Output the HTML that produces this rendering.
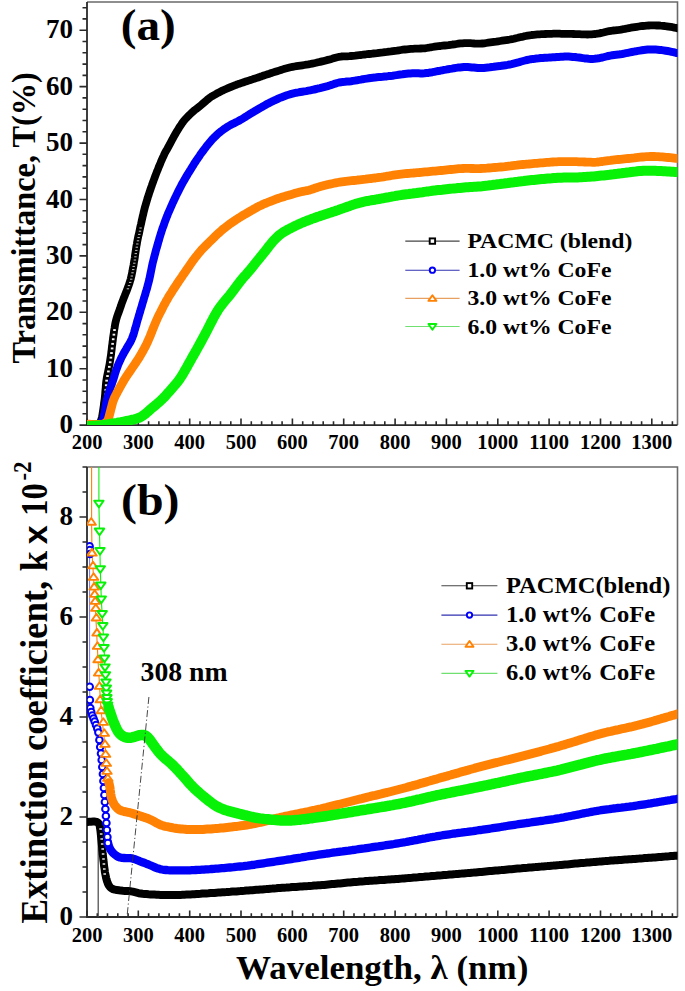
<!DOCTYPE html><html><head><meta charset="utf-8"><style>
html,body{margin:0;padding:0;background:#fff;}
svg{display:block;}
text{font-family:"Liberation Serif",serif;font-weight:bold;fill:#000;}
.yt{font-size:27px;}
.xt{font-size:20.5px;}
.lg{font-size:22px;}
.pl{font-size:44.5px;}
.ann{font-size:26.5px;}
.at{font-size:33px;}
.at2{font-size:37px;}
.xl{font-size:33.5px;}
.sx{font-family:"Liberation Sans",sans-serif;font-size:34px;}
.sup{font-size:26px;}
.lga{font-size:21.5px;}
.lgb{font-size:22.5px;}
</style></head><body><svg width="685" height="991" viewBox="0 0 685 991"><rect width="685" height="991" fill="#fff"/><path d="M87.0,2.0 H677.5 V425.1" fill="none" stroke="#6a6a6a" stroke-width="1.6"/>
<path d="M87.0,2.0 V425.1 H677.5" fill="none" stroke="#2a2a2a" stroke-width="1.8"/>
<path d="M79.5,425.1H87.0M79.5,368.7H87.0M79.5,312.3H87.0M79.5,255.9H87.0M79.5,199.5H87.0M79.5,143.1H87.0M79.5,86.6H87.0M79.5,30.2H87.0M82.5,413.8H87.0M82.5,402.5H87.0M82.5,391.3H87.0M82.5,380.0H87.0M82.5,357.4H87.0M82.5,346.1H87.0M82.5,334.8H87.0M82.5,323.6H87.0M82.5,301.0H87.0M82.5,289.7H87.0M82.5,278.4H87.0M82.5,267.2H87.0M82.5,244.6H87.0M82.5,233.3H87.0M82.5,222.0H87.0M82.5,210.7H87.0M82.5,188.2H87.0M82.5,176.9H87.0M82.5,165.6H87.0M82.5,154.3H87.0M82.5,131.8H87.0M82.5,120.5H87.0M82.5,109.2H87.0M82.5,97.9H87.0M82.5,75.4H87.0M82.5,64.1H87.0M82.5,52.8H87.0M82.5,41.5H87.0M82.5,18.9H87.0M82.5,7.7H87.0M87.0,425.1V418.6M97.3,425.1V421.3M107.5,425.1V421.3M117.8,425.1V421.3M128.1,425.1V421.3M138.3,425.1V418.6M148.6,425.1V421.3M158.9,425.1V421.3M169.2,425.1V421.3M179.4,425.1V421.3M189.7,425.1V418.6M200.0,425.1V421.3M210.2,425.1V421.3M220.5,425.1V421.3M230.8,425.1V421.3M241.0,425.1V418.6M251.3,425.1V421.3M261.6,425.1V421.3M271.9,425.1V421.3M282.1,425.1V421.3M292.4,425.1V418.6M302.7,425.1V421.3M312.9,425.1V421.3M323.2,425.1V421.3M333.5,425.1V421.3M343.7,425.1V418.6M354.0,425.1V421.3M364.3,425.1V421.3M374.5,425.1V421.3M384.8,425.1V421.3M395.1,425.1V418.6M405.4,425.1V421.3M415.6,425.1V421.3M425.9,425.1V421.3M436.2,425.1V421.3M446.4,425.1V418.6M456.7,425.1V421.3M467.0,425.1V421.3M477.2,425.1V421.3M487.5,425.1V421.3M497.8,425.1V418.6M508.1,425.1V421.3M518.3,425.1V421.3M528.6,425.1V421.3M538.9,425.1V421.3M549.1,425.1V418.6M559.4,425.1V421.3M569.7,425.1V421.3M579.9,425.1V421.3M590.2,425.1V421.3M600.5,425.1V418.6M610.7,425.1V421.3M621.0,425.1V421.3M631.3,425.1V421.3M641.6,425.1V421.3M651.8,425.1V418.6M662.1,425.1V421.3M672.4,425.1V421.3" stroke="#2a2a2a" stroke-width="1.6" fill="none"/>
<text x="73" y="433.1" text-anchor="end" class="yt">0</text>
<text x="73" y="376.7" text-anchor="end" class="yt">10</text>
<text x="73" y="320.3" text-anchor="end" class="yt">20</text>
<text x="73" y="263.9" text-anchor="end" class="yt">30</text>
<text x="73" y="207.5" text-anchor="end" class="yt">40</text>
<text x="73" y="151.1" text-anchor="end" class="yt">50</text>
<text x="73" y="94.6" text-anchor="end" class="yt">60</text>
<text x="73" y="38.2" text-anchor="end" class="yt">70</text>
<text x="87.0" y="448.5" text-anchor="middle" class="xt">200</text>
<text x="138.3" y="448.5" text-anchor="middle" class="xt">300</text>
<text x="189.7" y="448.5" text-anchor="middle" class="xt">400</text>
<text x="241.0" y="448.5" text-anchor="middle" class="xt">500</text>
<text x="292.4" y="448.5" text-anchor="middle" class="xt">600</text>
<text x="343.7" y="448.5" text-anchor="middle" class="xt">700</text>
<text x="395.1" y="448.5" text-anchor="middle" class="xt">800</text>
<text x="446.4" y="448.5" text-anchor="middle" class="xt">900</text>
<text x="497.8" y="448.5" text-anchor="middle" class="xt">1000</text>
<text x="549.1" y="448.5" text-anchor="middle" class="xt">1100</text>
<text x="600.5" y="448.5" text-anchor="middle" class="xt">1200</text>
<text x="651.8" y="448.5" text-anchor="middle" class="xt">1300</text>
<path d="M87.0,467.0 H677.5 V917.0" fill="none" stroke="#6a6a6a" stroke-width="1.6"/>
<path d="M87.0,467.0 V917.0 H677.5" fill="none" stroke="#2a2a2a" stroke-width="1.8"/>
<path d="M79.5,917.0H87.0M79.5,817.0H87.0M79.5,717.0H87.0M79.5,617.0H87.0M79.5,517.0H87.0M82.5,892.0H87.0M82.5,867.0H87.0M82.5,842.0H87.0M82.5,792.0H87.0M82.5,767.0H87.0M82.5,742.0H87.0M82.5,692.0H87.0M82.5,667.0H87.0M82.5,642.0H87.0M82.5,592.0H87.0M82.5,567.0H87.0M82.5,542.0H87.0M82.5,492.0H87.0M82.5,467.0H87.0M87.0,917.0V910.5M97.3,917.0V913.2M107.5,917.0V913.2M117.8,917.0V913.2M128.1,917.0V913.2M138.3,917.0V910.5M148.6,917.0V913.2M158.9,917.0V913.2M169.2,917.0V913.2M179.4,917.0V913.2M189.7,917.0V910.5M200.0,917.0V913.2M210.2,917.0V913.2M220.5,917.0V913.2M230.8,917.0V913.2M241.0,917.0V910.5M251.3,917.0V913.2M261.6,917.0V913.2M271.9,917.0V913.2M282.1,917.0V913.2M292.4,917.0V910.5M302.7,917.0V913.2M312.9,917.0V913.2M323.2,917.0V913.2M333.5,917.0V913.2M343.7,917.0V910.5M354.0,917.0V913.2M364.3,917.0V913.2M374.5,917.0V913.2M384.8,917.0V913.2M395.1,917.0V910.5M405.4,917.0V913.2M415.6,917.0V913.2M425.9,917.0V913.2M436.2,917.0V913.2M446.4,917.0V910.5M456.7,917.0V913.2M467.0,917.0V913.2M477.2,917.0V913.2M487.5,917.0V913.2M497.8,917.0V910.5M508.1,917.0V913.2M518.3,917.0V913.2M528.6,917.0V913.2M538.9,917.0V913.2M549.1,917.0V910.5M559.4,917.0V913.2M569.7,917.0V913.2M579.9,917.0V913.2M590.2,917.0V913.2M600.5,917.0V910.5M610.7,917.0V913.2M621.0,917.0V913.2M631.3,917.0V913.2M641.6,917.0V913.2M651.8,917.0V910.5M662.1,917.0V913.2M672.4,917.0V913.2" stroke="#2a2a2a" stroke-width="1.6" fill="none"/>
<text x="73" y="925.0" text-anchor="end" class="yt">0</text>
<text x="73" y="825.0" text-anchor="end" class="yt">2</text>
<text x="73" y="725.0" text-anchor="end" class="yt">4</text>
<text x="73" y="625.0" text-anchor="end" class="yt">6</text>
<text x="73" y="525.0" text-anchor="end" class="yt">8</text>
<text x="87.0" y="941.5" text-anchor="middle" class="xt">200</text>
<text x="138.3" y="941.5" text-anchor="middle" class="xt">300</text>
<text x="189.7" y="941.5" text-anchor="middle" class="xt">400</text>
<text x="241.0" y="941.5" text-anchor="middle" class="xt">500</text>
<text x="292.4" y="941.5" text-anchor="middle" class="xt">600</text>
<text x="343.7" y="941.5" text-anchor="middle" class="xt">700</text>
<text x="395.1" y="941.5" text-anchor="middle" class="xt">800</text>
<text x="446.4" y="941.5" text-anchor="middle" class="xt">900</text>
<text x="497.8" y="941.5" text-anchor="middle" class="xt">1000</text>
<text x="549.1" y="941.5" text-anchor="middle" class="xt">1100</text>
<text x="600.5" y="941.5" text-anchor="middle" class="xt">1200</text>
<text x="651.8" y="941.5" text-anchor="middle" class="xt">1300</text>
<defs><clipPath id="ca"><rect x="87.0" y="2.0" width="590.5" height="423.1"/></clipPath>
<clipPath id="cb"><rect x="87.0" y="467.0" width="590.5" height="450.0"/></clipPath></defs>
<g>
<path d="M88.2,424.0 89.4,424.1 91.1,424.2 93.0,424.2 95.0,424.2 96.9,424.0 98.6,423.5 99.9,422.5 100.8,421.1 101.4,419.3 101.9,417.4 102.3,415.5 102.6,413.5 102.9,411.5 103.2,409.6 103.5,407.6 103.8,405.6 104.0,403.6 104.3,401.6 104.6,399.7 104.8,397.7 105.0,395.7 105.2,393.7 105.3,391.7 105.5,389.7 105.7,387.7 105.8,385.7 106.0,383.7 106.2,381.7 106.5,379.8 106.8,377.8 107.2,375.8 107.6,373.9 108.0,371.9 108.4,369.9 108.8,368.0 109.2,366.0 109.6,364.1 109.9,362.1 110.2,360.1 110.5,358.1 110.8,356.2 111.1,354.2 111.3,352.2 111.6,350.2 111.8,348.2 112.0,346.2 112.3,344.3 112.5,342.3 112.8,340.3 113.0,338.3 113.3,336.3 113.6,334.3 113.9,332.4 114.1,330.4 114.5,328.4 114.8,326.4 115.1,324.5 115.5,322.5 116.0,320.6 116.5,318.6 117.1,316.7 117.7,314.8 118.4,313.0 119.1,311.1 119.8,309.2 120.4,307.3 121.1,305.4 121.7,303.5 122.4,301.6 123.1,299.8 123.8,297.9 124.6,296.0 125.3,294.2 126.1,292.3 126.8,290.5 127.5,288.6 128.2,286.7 128.9,284.9 129.5,283.0 130.1,281.0 130.7,279.1 131.1,277.2 131.6,275.2 132.0,273.3 132.4,271.3 132.7,269.3 133.1,267.4 133.5,265.4 133.8,263.4 134.1,261.5 134.5,259.5 134.8,257.5 135.0,255.5 135.3,253.6 135.6,251.6 135.9,249.6 136.2,247.6 136.5,245.7 136.9,243.7 137.2,241.7 137.6,239.8 138.0,237.8 138.4,235.8 138.9,233.9 139.3,231.9 139.7,230.0 140.1,228.0 140.5,226.1 141.0,224.1 141.4,222.2 141.8,220.2 142.3,218.3 142.7,216.3 143.2,214.4 143.6,212.4 144.1,210.5 144.6,208.5 145.1,206.6 145.7,204.7 146.2,202.8 146.8,200.8 147.4,198.9 147.9,197.0 148.6,195.1 149.2,193.2 149.8,191.3 150.5,189.4 151.1,187.5 151.8,185.6 152.4,183.8 153.1,181.9 153.8,180.0 154.5,178.1 155.2,176.2 155.9,174.4 156.6,172.5 157.4,170.6 158.1,168.8 158.8,166.9 159.6,165.1 160.4,163.2 161.1,161.4 161.9,159.6 162.7,157.7 163.6,155.9 164.4,154.1 165.3,152.3 166.3,150.6 167.3,148.8 168.2,147.1 169.2,145.3 170.2,143.6 171.1,141.8 172.0,140.0 173.0,138.3 173.9,136.5 174.9,134.8 175.9,133.0 176.9,131.3 178.0,129.6 179.0,127.9 180.1,126.2 181.2,124.6 182.3,122.9 183.5,121.3 184.8,119.8 186.1,118.3 187.5,116.8 188.9,115.4 190.4,114.0 191.8,112.7 193.3,111.3 194.8,110.0 196.4,108.8 198.0,107.6 199.6,106.4 201.1,105.1 202.6,103.8 204.1,102.5 205.6,101.2 207.1,99.9 208.7,98.6 210.3,97.4 211.9,96.3 213.6,95.3 215.4,94.3 217.1,93.3 218.9,92.4 220.7,91.5 222.5,90.6 224.3,89.8 226.1,89.0 228.0,88.2 229.8,87.4 231.7,86.6 233.5,85.9 235.4,85.2 237.2,84.4 239.1,83.8 241.0,83.1 242.9,82.5 244.8,81.8 246.7,81.2 248.6,80.6 250.5,80.0 252.4,79.4 254.3,78.7 256.2,78.1 258.1,77.5 260.0,76.8 261.9,76.2 263.8,75.5 265.7,74.9 267.6,74.3 269.5,73.7 271.4,73.0 273.3,72.4 275.2,71.8 277.1,71.2 279.0,70.6 280.9,70.0 282.8,69.4 284.7,68.8 286.7,68.3 288.6,67.8 290.5,67.3 292.5,66.9 294.5,66.5 296.4,66.2 298.4,65.9 300.4,65.6 302.4,65.3 304.3,65.0 306.3,64.7 308.3,64.4 310.3,64.0 312.2,63.6 314.2,63.2 316.1,62.8 318.1,62.3 320.0,61.9 322.0,61.4 323.9,60.9 325.8,60.4 327.8,59.9 329.7,59.4 331.6,58.9 333.5,58.3 335.4,57.7 337.4,57.2 339.3,56.8 341.3,56.5 343.3,56.4 345.3,56.4 347.3,56.3 349.3,56.2 351.3,56.0 353.2,55.9 355.2,55.7 357.2,55.4 359.2,55.2 361.2,55.0 363.2,54.7 365.2,54.5 367.1,54.2 369.1,54.0 371.1,53.8 373.1,53.5 375.1,53.3 377.1,53.1 379.1,52.8 381.1,52.6 383.0,52.4 385.0,52.1 387.0,51.9 389.0,51.6 391.0,51.4 393.0,51.1 394.9,50.8 396.9,50.6 398.9,50.3 400.9,50.0 402.9,49.7 404.8,49.5 406.8,49.3 408.8,49.1 410.8,48.9 412.8,48.8 414.8,48.7 416.8,48.6 418.8,48.6 420.8,48.5 422.8,48.4 424.8,48.3 426.8,48.0 428.7,47.7 430.7,47.3 432.7,47.0 434.6,46.7 436.6,46.4 438.6,46.2 440.6,46.0 442.6,45.7 444.6,45.5 446.5,45.3 448.5,45.1 450.5,44.8 452.5,44.5 454.5,44.3 456.5,44.0 458.4,43.7 460.4,43.4 462.4,43.3 464.4,43.1 466.4,43.1 468.4,43.1 470.4,43.2 472.4,43.3 474.4,43.5 476.4,43.6 478.4,43.7 480.4,43.7 482.4,43.5 484.3,43.3 486.3,43.0 488.3,42.7 490.3,42.4 492.2,42.1 494.2,41.8 496.2,41.6 498.2,41.3 500.2,41.0 502.1,40.7 504.1,40.4 506.1,40.1 508.1,39.8 510.0,39.5 512.0,39.1 514.0,38.7 515.9,38.2 517.9,37.8 519.8,37.3 521.8,36.9 523.7,36.4 525.7,36.0 527.6,35.6 529.6,35.3 531.6,35.0 533.6,34.8 535.6,34.6 537.5,34.4 539.5,34.3 541.5,34.2 543.5,34.1 545.5,34.0 547.5,33.9 549.5,33.8 551.5,33.8 553.5,33.7 555.5,33.7 557.5,33.7 559.5,33.7 561.5,33.8 563.5,33.8 565.5,33.8 567.5,33.9 569.5,33.9 571.5,33.9 573.5,34.0 575.5,34.1 577.5,34.2 579.5,34.2 581.5,34.3 583.5,34.4 585.5,34.4 587.5,34.5 589.5,34.4 591.5,34.4 593.5,34.2 595.5,34.0 597.5,33.7 599.4,33.4 601.4,32.9 603.3,32.5 605.3,32.0 607.2,31.5 609.1,31.1 611.1,30.8 613.1,30.5 615.1,30.3 617.1,30.1 619.1,29.9 621.0,29.6 623.0,29.2 625.0,28.9 626.9,28.5 628.9,28.1 630.9,27.7 632.8,27.4 634.8,27.1 636.8,26.8 638.8,26.5 640.7,26.2 642.7,26.0 644.7,25.8 646.7,25.6 648.7,25.5 650.7,25.4 652.7,25.4 654.7,25.4 656.7,25.5 658.7,25.5 660.7,25.7 662.7,25.8 664.7,26.0 666.7,26.3 668.6,26.6 670.6,26.9 672.6,27.2 674.4,27.6 676.1,27.9 677.3,28.2" fill="none" stroke="#000" stroke-width="7.8" stroke-linejoin="round" stroke-linecap="round" clip-path="url(#ca)"/>
<g fill="#fff" fill-opacity="0.95"><rect x="113.2" y="329.1" width="2.6" height="1.9"/><rect x="112.6" y="333.7" width="2.6" height="1.9"/><rect x="111.9" y="338.3" width="2.6" height="1.9"/><rect x="111.3" y="342.9" width="2.6" height="1.9"/><rect x="110.8" y="347.5" width="2.6" height="1.9"/><rect x="110.2" y="352.1" width="2.6" height="1.9"/><rect x="109.6" y="356.7" width="2.6" height="1.9"/><rect x="108.9" y="361.3" width="2.6" height="1.9"/><rect x="108.0" y="365.9" width="2.6" height="1.9"/><rect x="107.1" y="370.5" width="2.6" height="1.9"/><rect x="106.2" y="375.1" width="2.6" height="1.9"/><rect x="105.3" y="379.7" width="2.6" height="1.9"/><rect x="104.9" y="384.3" width="2.6" height="1.9"/><rect x="104.5" y="388.9" width="2.6" height="1.9"/><rect x="104.1" y="393.5" width="2.6" height="1.9"/><rect x="103.7" y="398.1" width="2.6" height="1.9"/></g>
<g fill="#fff" fill-opacity="0.75"><rect x="139.4" y="227.5" width="2.4" height="1.0"/><rect x="138.8" y="230.7" width="2.4" height="1.0"/><rect x="138.1" y="233.9" width="2.4" height="1.0"/><rect x="137.4" y="237.1" width="2.4" height="1.0"/><rect x="136.8" y="240.3" width="2.4" height="1.0"/><rect x="136.1" y="243.5" width="2.4" height="1.0"/><rect x="135.6" y="246.7" width="2.4" height="1.0"/><rect x="135.1" y="249.9" width="2.4" height="1.0"/><rect x="134.6" y="253.1" width="2.4" height="1.0"/><rect x="134.2" y="256.3" width="2.4" height="1.0"/><rect x="133.7" y="259.5" width="2.4" height="1.0"/><rect x="133.1" y="262.7" width="2.4" height="1.0"/><rect x="132.5" y="265.9" width="2.4" height="1.0"/><rect x="132.0" y="269.1" width="2.4" height="1.0"/><rect x="131.3" y="272.3" width="2.4" height="1.0"/><rect x="130.6" y="275.5" width="2.4" height="1.0"/><rect x="130.0" y="278.7" width="2.4" height="1.0"/><rect x="129.0" y="281.9" width="2.4" height="1.0"/><rect x="127.8" y="285.1" width="2.4" height="1.0"/><rect x="126.7" y="288.3" width="2.4" height="1.0"/></g>
<path d="M88.2,424.0 89.4,424.0 91.1,424.0 93.0,424.0 95.0,424.0 97.0,423.9 98.9,423.6 100.5,423.0 101.8,422.0 102.7,420.6 103.2,418.8 103.6,416.9 104.0,414.9 104.4,413.0 104.8,411.0 105.1,409.0 105.4,407.1 105.8,405.1 106.1,403.1 106.5,401.2 107.0,399.2 107.5,397.3 108.0,395.4 108.6,393.5 109.2,391.5 109.8,389.6 110.4,387.7 111.1,385.9 111.8,384.0 112.4,382.1 113.1,380.2 113.7,378.3 114.3,376.4 114.8,374.5 115.4,372.6 116.0,370.7 116.7,368.8 117.4,366.9 118.1,365.0 118.9,363.2 119.7,361.4 120.6,359.5 121.4,357.7 122.3,356.0 123.2,354.2 124.2,352.4 125.2,350.7 126.2,349.0 127.2,347.2 128.3,345.5 129.3,343.8 130.3,342.1 131.2,340.3 132.0,338.5 132.7,336.6 133.4,334.8 134.0,332.8 134.5,330.9 135.1,329.0 135.6,327.1 136.2,325.2 136.7,323.2 137.2,321.3 137.8,319.4 138.4,317.5 138.9,315.5 139.5,313.6 140.1,311.7 140.6,309.8 141.2,307.9 141.8,306.0 142.3,304.0 142.9,302.1 143.5,300.2 144.0,298.3 144.6,296.4 145.2,294.5 145.7,292.5 146.3,290.6 146.9,288.7 147.4,286.8 147.9,284.8 148.4,282.9 148.9,281.0 149.4,279.0 149.8,277.1 150.2,275.1 150.6,273.1 151.0,271.2 151.4,269.2 151.8,267.3 152.2,265.3 152.6,263.4 153.1,261.4 153.6,259.5 154.1,257.5 154.6,255.6 155.1,253.7 155.6,251.7 156.1,249.8 156.7,247.9 157.2,246.0 157.8,244.0 158.3,242.1 158.9,240.2 159.4,238.3 160.0,236.4 160.6,234.4 161.2,232.5 161.8,230.6 162.4,228.7 163.1,226.8 163.8,225.0 164.4,223.1 165.1,221.2 165.8,219.3 166.5,217.5 167.3,215.6 168.0,213.7 168.8,211.9 169.6,210.1 170.4,208.2 171.2,206.4 172.0,204.6 172.8,202.7 173.7,200.9 174.5,199.1 175.4,197.3 176.2,195.5 177.1,193.7 178.0,191.9 178.9,190.1 179.8,188.3 180.7,186.6 181.6,184.8 182.6,183.0 183.6,181.3 184.6,179.6 185.6,177.8 186.6,176.1 187.6,174.4 188.7,172.7 189.7,171.0 190.8,169.3 191.8,167.6 192.9,165.9 193.9,164.2 195.0,162.5 196.1,160.8 197.2,159.2 198.4,157.5 199.5,155.9 200.6,154.2 201.8,152.6 203.0,151.0 204.2,149.4 205.4,147.8 206.6,146.2 207.9,144.7 209.1,143.1 210.4,141.6 211.7,140.1 213.1,138.6 214.5,137.2 215.9,135.8 217.3,134.4 218.8,133.1 220.4,131.8 222.0,130.6 223.6,129.4 225.2,128.3 226.9,127.2 228.6,126.1 230.3,125.1 232.1,124.2 233.9,123.3 235.7,122.4 237.5,121.5 239.2,120.6 241.0,119.6 242.7,118.6 244.4,117.5 246.1,116.5 247.8,115.4 249.5,114.3 251.2,113.3 252.9,112.3 254.6,111.2 256.3,110.2 258.0,109.2 259.7,108.2 261.5,107.2 263.2,106.2 265.0,105.2 266.7,104.2 268.5,103.3 270.3,102.4 272.1,101.5 273.9,100.7 275.7,99.8 277.5,99.0 279.3,98.2 281.2,97.4 283.0,96.7 284.9,96.0 286.8,95.3 288.7,94.7 290.6,94.1 292.5,93.6 294.5,93.1 296.4,92.7 298.4,92.4 300.4,92.0 302.3,91.7 304.3,91.4 306.3,91.1 308.3,90.7 310.2,90.3 312.2,89.9 314.1,89.5 316.1,89.0 318.0,88.5 320.0,88.1 321.9,87.6 323.8,87.1 325.8,86.6 327.7,86.1 329.6,85.5 331.5,84.9 333.4,84.3 335.3,83.6 337.2,83.0 339.1,82.5 341.1,82.2 343.0,81.9 345.0,81.8 347.0,81.6 349.0,81.4 351.0,81.2 353.0,80.9 355.0,80.6 356.9,80.3 358.9,79.9 360.9,79.6 362.8,79.2 364.8,78.9 366.8,78.6 368.8,78.3 370.7,78.0 372.7,77.8 374.7,77.6 376.7,77.3 378.7,77.1 380.7,76.9 382.7,76.8 384.7,76.6 386.7,76.4 388.6,76.1 390.6,75.9 392.6,75.7 394.6,75.4 396.6,75.1 398.6,74.8 400.5,74.5 402.5,74.3 404.5,74.0 406.5,73.8 408.5,73.6 410.5,73.4 412.5,73.3 414.5,73.3 416.5,73.3 418.5,73.3 420.5,73.4 422.5,73.4 424.5,73.3 426.4,73.1 428.4,72.9 430.4,72.5 432.3,72.2 434.3,71.8 436.3,71.4 438.2,71.0 440.2,70.7 442.2,70.3 444.1,69.9 446.1,69.6 448.1,69.2 450.0,68.9 452.0,68.6 454.0,68.2 456.0,67.9 457.9,67.6 459.9,67.4 461.9,67.2 463.9,67.0 465.9,67.0 467.9,67.1 469.9,67.2 471.9,67.4 473.9,67.6 475.8,67.8 477.8,68.0 479.8,68.1 481.8,68.1 483.8,67.9 485.8,67.7 487.8,67.5 489.8,67.3 491.8,67.0 493.7,66.8 495.7,66.5 497.7,66.3 499.7,66.1 501.7,65.8 503.7,65.5 505.6,65.2 507.6,64.9 509.6,64.5 511.5,64.1 513.5,63.6 515.4,63.1 517.3,62.6 519.3,62.1 521.2,61.5 523.1,61.0 525.0,60.5 527.0,60.0 528.9,59.6 530.9,59.2 532.9,58.9 534.9,58.7 536.8,58.4 538.8,58.3 540.8,58.1 542.8,58.0 544.8,57.8 546.8,57.7 548.8,57.6 550.8,57.4 552.8,57.3 554.8,57.2 556.8,57.0 558.8,56.9 560.8,56.8 562.8,56.7 564.8,56.6 566.8,56.6 568.8,56.6 570.8,56.7 572.8,56.9 574.8,57.0 576.7,57.3 578.7,57.5 580.7,57.8 582.7,58.1 584.7,58.4 586.6,58.6 588.6,58.8 590.6,58.9 592.6,58.9 594.6,58.8 596.6,58.6 598.6,58.3 600.5,57.9 602.5,57.5 604.4,57.0 606.3,56.5 608.3,56.0 610.2,55.6 612.2,55.3 614.2,55.0 616.2,54.8 618.2,54.6 620.1,54.3 622.1,54.0 624.1,53.6 626.0,53.2 628.0,52.8 629.9,52.4 631.9,52.0 633.9,51.6 635.8,51.3 637.8,50.9 639.8,50.6 641.8,50.3 643.7,50.0 645.7,49.8 647.7,49.6 649.7,49.5 651.7,49.5 653.7,49.5 655.7,49.6 657.7,49.7 659.7,49.9 661.7,50.1 663.6,50.4 665.6,50.7 667.6,51.0 669.6,51.4 671.5,51.8 673.4,52.2 675.2,52.7 676.6,53.0" fill="none" stroke="#0000f8" stroke-width="8.0" stroke-linejoin="round" stroke-linecap="round" clip-path="url(#ca)"/>
<path d="M88.2,424.2 89.4,424.2 91.1,424.3 93.0,424.3 95.0,424.3 97.0,424.4 99.0,424.3 101.0,424.3 102.9,424.0 104.6,423.5 106.1,422.5 107.3,421.1 108.1,419.4 108.8,417.6 109.3,415.6 109.8,413.7 110.3,411.8 110.8,409.8 111.3,407.9 111.8,406.0 112.3,404.0 112.8,402.1 113.5,400.2 114.2,398.4 115.0,396.6 115.9,394.8 116.9,393.0 117.8,391.2 118.8,389.5 119.7,387.7 120.7,386.0 121.7,384.2 122.7,382.5 123.7,380.8 124.7,379.1 125.8,377.4 126.9,375.7 128.0,374.1 129.2,372.4 130.3,370.8 131.4,369.1 132.5,367.5 133.7,365.8 134.8,364.2 135.9,362.5 137.0,360.8 138.1,359.2 139.2,357.5 140.2,355.7 141.2,354.0 142.2,352.3 143.2,350.5 144.1,348.8 145.1,347.0 146.0,345.2 146.9,343.4 147.7,341.6 148.5,339.8 149.3,338.0 150.1,336.1 150.8,334.3 151.6,332.4 152.3,330.5 153.0,328.7 153.8,326.8 154.5,325.0 155.3,323.1 156.1,321.3 156.9,319.5 157.7,317.6 158.6,315.8 159.5,314.0 160.4,312.3 161.3,310.5 162.2,308.7 163.1,306.9 164.0,305.1 165.0,303.4 165.9,301.6 166.9,299.9 167.9,298.2 168.9,296.4 170.0,294.7 171.1,293.1 172.1,291.4 173.2,289.7 174.3,288.0 175.4,286.3 176.5,284.7 177.6,283.0 178.7,281.3 179.8,279.7 181.0,278.0 182.1,276.4 183.2,274.7 184.4,273.1 185.5,271.4 186.6,269.8 187.8,268.1 188.9,266.5 190.0,264.8 191.2,263.2 192.3,261.6 193.5,259.9 194.7,258.3 195.9,256.8 197.2,255.2 198.4,253.6 199.7,252.1 201.0,250.6 202.4,249.1 203.7,247.7 205.1,246.2 206.6,244.8 208.0,243.4 209.4,242.0 210.8,240.6 212.3,239.2 213.7,237.8 215.1,236.4 216.5,235.0 218.0,233.6 219.5,232.3 221.0,231.0 222.5,229.7 224.0,228.4 225.6,227.2 227.2,226.0 228.8,224.8 230.4,223.6 232.1,222.4 233.7,221.3 235.4,220.2 237.0,219.1 238.7,218.0 240.4,217.0 242.1,215.9 243.8,214.9 245.6,213.9 247.3,212.9 249.0,211.9 250.7,210.9 252.5,209.9 254.2,208.9 256.0,207.9 257.7,206.9 259.5,206.0 261.3,205.2 263.1,204.3 264.9,203.5 266.8,202.8 268.7,202.0 270.5,201.3 272.4,200.6 274.3,199.9 276.1,199.2 278.0,198.5 279.9,197.9 281.8,197.3 283.7,196.7 285.6,196.1 287.6,195.6 289.5,195.0 291.4,194.5 293.3,193.9 295.2,193.3 297.2,192.8 299.1,192.3 301.1,191.8 303.0,191.4 305.0,191.0 306.9,190.6 308.9,190.2 310.8,189.6 312.7,189.0 314.6,188.3 316.5,187.7 318.3,187.1 320.3,186.5 322.2,186.0 324.1,185.5 326.1,185.0 328.0,184.5 330.0,184.1 331.9,183.7 333.9,183.3 335.8,182.9 337.8,182.5 339.8,182.2 341.8,181.9 343.7,181.6 345.7,181.3 347.7,181.1 349.7,180.9 351.7,180.7 353.7,180.5 355.7,180.3 357.7,180.0 359.6,179.8 361.6,179.6 363.6,179.4 365.6,179.2 367.6,178.9 369.6,178.7 371.6,178.5 373.5,178.2 375.5,178.0 377.5,177.7 379.5,177.4 381.5,177.2 383.5,176.9 385.4,176.5 387.4,176.2 389.4,175.9 391.3,175.5 393.3,175.2 395.3,174.9 397.3,174.6 399.2,174.3 401.2,174.1 403.2,173.9 405.2,173.7 407.2,173.5 409.2,173.3 411.2,173.1 413.2,173.0 415.2,172.8 417.2,172.6 419.2,172.5 421.1,172.3 423.1,172.1 425.1,171.9 427.1,171.8 429.1,171.6 431.1,171.4 433.1,171.2 435.1,171.1 437.1,170.9 439.1,170.7 441.1,170.5 443.1,170.3 445.0,170.1 447.0,169.9 449.0,169.7 451.0,169.5 453.0,169.3 455.0,169.1 457.0,168.9 459.0,168.7 461.0,168.6 463.0,168.5 465.0,168.4 467.0,168.4 469.0,168.4 471.0,168.5 473.0,168.5 475.0,168.6 477.0,168.6 479.0,168.6 481.0,168.5 483.0,168.4 485.0,168.3 486.9,168.2 488.9,168.0 490.9,167.9 492.9,167.7 494.9,167.5 496.9,167.4 498.9,167.2 500.9,167.0 502.9,166.8 504.9,166.6 506.9,166.3 508.8,166.1 510.8,165.9 512.8,165.6 514.8,165.4 516.8,165.2 518.8,164.9 520.8,164.7 522.8,164.5 524.7,164.3 526.7,164.1 528.7,164.0 530.7,163.8 532.7,163.6 534.7,163.4 536.7,163.3 538.7,163.1 540.7,162.9 542.7,162.8 544.7,162.6 546.7,162.4 548.7,162.3 550.7,162.1 552.6,162.0 554.6,161.9 556.6,161.8 558.6,161.7 560.6,161.6 562.6,161.6 564.6,161.6 566.6,161.6 568.6,161.6 570.6,161.6 572.6,161.6 574.6,161.7 576.6,161.7 578.6,161.8 580.6,161.8 582.6,161.9 584.6,162.0 586.6,162.1 588.6,162.2 590.6,162.2 592.6,162.3 594.6,162.3 596.6,162.2 598.6,162.0 600.6,161.7 602.5,161.5 604.5,161.2 606.5,160.9 608.5,160.6 610.5,160.4 612.5,160.1 614.4,159.9 616.4,159.7 618.4,159.5 620.4,159.3 622.4,159.1 624.4,158.9 626.4,158.7 628.4,158.5 630.4,158.3 632.4,158.1 634.3,157.9 636.3,157.6 638.3,157.4 640.3,157.2 642.3,157.0 644.3,156.8 646.3,156.7 648.3,156.6 650.3,156.5 652.3,156.5 654.3,156.5 656.3,156.6 658.3,156.6 660.3,156.8 662.3,156.9 664.2,157.1 666.2,157.3 668.2,157.5 670.2,157.7 672.2,157.9 674.1,158.1 675.7,158.3 677.0,158.5" fill="none" stroke="#ff8205" stroke-width="8.8" stroke-linejoin="round" stroke-linecap="round" clip-path="url(#ca)"/>
<path d="M88.0,426.1 89.3,426.1 91.0,426.0 93.0,425.8 95.0,425.7 97.0,425.6 99.0,425.4 101.0,425.2 102.9,424.9 104.9,424.7 106.9,424.4 108.9,424.1 110.9,423.8 112.8,423.5 114.8,423.2 116.8,422.9 118.8,422.5 120.7,422.2 122.7,421.8 124.7,421.4 126.6,421.0 128.6,420.6 130.5,420.2 132.5,419.7 134.4,419.3 136.3,418.7 138.2,418.1 140.1,417.3 141.8,416.4 143.5,415.3 145.1,414.1 146.6,412.8 148.1,411.5 149.6,410.1 151.1,408.8 152.6,407.5 154.1,406.3 155.7,405.0 157.2,403.7 158.8,402.4 160.2,401.1 161.7,399.7 163.1,398.3 164.5,396.9 165.8,395.4 167.1,393.9 168.5,392.4 169.8,390.9 171.1,389.4 172.4,387.9 173.7,386.4 175.1,384.9 176.4,383.3 177.6,381.8 178.9,380.2 180.0,378.6 181.1,376.9 182.2,375.2 183.2,373.5 184.2,371.8 185.2,370.0 186.2,368.3 187.2,366.6 188.1,364.8 189.1,363.1 190.1,361.3 191.1,359.6 192.0,357.8 193.0,356.1 194.0,354.4 195.0,352.6 196.0,350.9 197.0,349.1 197.9,347.4 198.9,345.6 199.9,343.9 200.8,342.1 201.8,340.4 202.7,338.6 203.7,336.8 204.6,335.1 205.6,333.3 206.5,331.5 207.4,329.8 208.3,328.0 209.2,326.2 210.1,324.4 211.0,322.6 212.0,320.9 212.9,319.1 213.8,317.3 214.8,315.6 215.8,313.8 216.8,312.1 217.8,310.4 218.9,308.7 220.1,307.1 221.3,305.5 222.5,303.9 223.7,302.4 225.0,300.8 226.3,299.3 227.6,297.8 228.9,296.3 230.2,294.7 231.4,293.1 232.6,291.5 233.8,289.9 235.0,288.3 236.2,286.7 237.4,285.1 238.6,283.5 239.8,281.9 241.0,280.4 242.3,278.8 243.6,277.3 244.9,275.8 246.3,274.3 247.6,272.8 248.9,271.3 250.2,269.8 251.4,268.2 252.7,266.7 254.0,265.1 255.2,263.5 256.4,262.0 257.7,260.4 259.0,258.8 260.2,257.3 261.5,255.8 262.8,254.2 264.0,252.7 265.3,251.1 266.5,249.5 267.7,247.9 268.9,246.3 270.2,244.8 271.4,243.2 272.7,241.7 274.1,240.2 275.4,238.8 276.9,237.4 278.3,236.0 279.9,234.7 281.5,233.5 283.1,232.4 284.8,231.4 286.6,230.4 288.3,229.4 290.1,228.5 291.8,227.6 293.6,226.7 295.4,225.8 297.2,225.0 299.1,224.1 300.9,223.3 302.7,222.5 304.6,221.8 306.4,221.0 308.3,220.3 310.2,219.6 312.0,218.8 313.9,218.2 315.8,217.5 317.7,216.8 319.6,216.2 321.5,215.5 323.4,214.9 325.3,214.3 327.2,213.7 329.1,213.1 331.0,212.5 332.9,211.8 334.8,211.2 336.7,210.5 338.6,209.9 340.4,209.2 342.3,208.6 344.2,207.9 346.1,207.2 348.0,206.5 349.9,205.9 351.7,205.2 353.6,204.6 355.5,203.9 357.5,203.4 359.4,202.8 361.3,202.3 363.3,201.8 365.2,201.4 367.2,201.0 369.1,200.7 371.1,200.3 373.1,200.0 375.1,199.7 377.0,199.3 379.0,199.0 381.0,198.6 382.9,198.3 384.9,197.9 386.9,197.5 388.8,197.2 390.8,196.8 392.8,196.4 394.7,196.1 396.7,195.7 398.7,195.4 400.7,195.1 402.6,194.8 404.6,194.5 406.6,194.2 408.6,194.0 410.6,193.7 412.5,193.5 414.5,193.2 416.5,193.0 418.5,192.7 420.5,192.4 422.5,192.2 424.4,191.9 426.4,191.6 428.4,191.4 430.4,191.1 432.4,190.8 434.4,190.6 436.3,190.3 438.3,190.1 440.3,189.9 442.3,189.7 444.3,189.4 446.3,189.2 448.3,189.0 450.3,188.8 452.2,188.6 454.2,188.4 456.2,188.3 458.2,188.1 460.2,187.9 462.2,187.7 464.2,187.5 466.2,187.3 468.2,187.2 470.2,187.0 472.2,186.9 474.2,186.8 476.2,186.7 478.2,186.5 480.1,186.4 482.1,186.2 484.1,185.9 486.1,185.7 488.1,185.5 490.1,185.2 492.1,185.0 494.1,184.7 496.0,184.5 498.0,184.2 500.0,184.0 502.0,183.7 504.0,183.5 506.0,183.2 507.9,183.0 509.9,182.7 511.9,182.4 513.9,182.2 515.9,181.9 517.9,181.7 519.8,181.4 521.8,181.2 523.8,181.0 525.8,180.7 527.8,180.5 529.8,180.3 531.8,180.1 533.8,179.9 535.7,179.7 537.7,179.5 539.7,179.3 541.7,179.1 543.7,179.0 545.7,178.8 547.7,178.6 549.7,178.4 551.7,178.3 553.7,178.1 555.7,178.0 557.7,177.8 559.7,177.7 561.7,177.7 563.7,177.6 565.7,177.5 567.7,177.5 569.7,177.5 571.7,177.5 573.7,177.5 575.7,177.4 577.7,177.4 579.7,177.3 581.7,177.2 583.6,177.1 585.6,177.0 587.6,176.8 589.6,176.7 591.6,176.5 593.6,176.4 595.6,176.2 597.6,176.0 599.6,175.8 601.6,175.6 603.6,175.4 605.6,175.2 607.6,175.0 609.5,174.8 611.5,174.5 613.5,174.3 615.5,174.0 617.5,173.8 619.5,173.5 621.4,173.3 623.4,173.0 625.4,172.8 627.4,172.5 629.4,172.3 631.4,172.0 633.4,171.8 635.3,171.6 637.3,171.3 639.3,171.1 641.3,171.0 643.3,170.8 645.3,170.7 647.3,170.7 649.3,170.7 651.3,170.7 653.3,170.7 655.3,170.8 657.3,170.9 659.3,171.0 661.3,171.1 663.3,171.2 665.3,171.3 667.3,171.4 669.3,171.5 671.3,171.7 673.2,171.8 675.1,171.9 676.7,172.0" fill="none" stroke="#08f208" stroke-width="10.0" stroke-linejoin="round" stroke-linecap="round" clip-path="url(#ca)"/>
</g>
<path d="M98.2,824V917" stroke="#444" stroke-width="1.2" clip-path="url(#cb)"/>
<path d="M91.6,467V522M91.6,522L92,553L95,600L98,660L101,710L105.5,750" fill="none" stroke="#ff8205" stroke-width="1.1" clip-path="url(#cb)"/>
<path d="M98.9,467V504L99.5,531.5L100.3,569L101.3,599.4L103,628.5L105,667L106.2,686" fill="none" stroke="#08f208" stroke-width="1.1" clip-path="url(#cb)"/>
<path d="M89.6,546V690L90.5,714L95,730L100,757L103,780" fill="none" stroke="#0000f8" stroke-width="1" stroke-opacity="0.55" clip-path="url(#cb)"/>
<g clip-path="url(#cb)"></g>
<path d="M87.8,821.9 89.1,821.8 91.0,821.7 93.0,821.6 95.0,821.6 96.8,822.0 98.3,822.9 99.3,824.4 99.8,826.3 100.1,828.3 100.4,830.3 100.6,832.2 100.8,834.2 101.0,836.2 101.2,838.2 101.4,840.2 101.6,842.2 101.8,844.2 102.0,846.2 102.2,848.2 102.3,850.2 102.5,852.2 102.7,854.1 103.0,856.1 103.2,858.1 103.4,860.1 103.7,862.1 103.9,864.1 104.1,866.1 104.4,868.0 104.7,870.0 104.9,872.0 105.3,874.0 105.7,875.9 106.1,877.9 106.6,879.8 107.2,881.7 107.9,883.6 108.8,885.4 109.9,886.9 111.4,888.2 113.1,889.1 115.0,889.7 116.9,890.1 118.9,890.3 120.9,890.6 122.9,890.8 124.9,890.9 126.9,891.0 128.9,891.1 130.9,891.3 132.8,891.7 134.8,892.2 136.7,892.7 138.6,893.2 140.6,893.5 142.6,893.8 144.6,894.0 146.5,894.1 148.5,894.3 150.5,894.4 152.5,894.5 154.5,894.6 156.5,894.7 158.5,894.8 160.5,894.9 162.5,895.0 164.5,895.0 166.5,895.0 168.5,895.0 170.5,895.0 172.5,895.0 174.5,895.0 176.5,895.0 178.5,894.9 180.5,894.9 182.5,894.8 184.5,894.7 186.5,894.6 188.5,894.5 190.5,894.4 192.5,894.3 194.5,894.2 196.5,894.0 198.5,893.9 200.5,893.8 202.5,893.6 204.5,893.5 206.5,893.4 208.5,893.3 210.5,893.1 212.5,893.0 214.5,892.9 216.5,892.7 218.4,892.6 220.4,892.5 222.4,892.3 224.4,892.2 226.4,892.1 228.4,891.9 230.4,891.8 232.4,891.6 234.4,891.5 236.4,891.4 238.4,891.2 240.4,891.1 242.4,890.9 244.4,890.8 246.4,890.6 248.4,890.5 250.4,890.3 252.4,890.2 254.4,890.0 256.3,889.8 258.3,889.7 260.3,889.5 262.3,889.4 264.3,889.2 266.3,889.1 268.3,888.9 270.3,888.7 272.3,888.6 274.3,888.4 276.3,888.3 278.3,888.1 280.3,888.0 282.3,887.8 284.3,887.7 286.3,887.6 288.3,887.4 290.2,887.3 292.2,887.1 294.2,887.0 296.2,886.9 298.2,886.7 300.2,886.6 302.2,886.5 304.2,886.3 306.2,886.2 308.2,886.1 310.2,885.9 312.2,885.8 314.2,885.6 316.2,885.5 318.2,885.3 320.2,885.2 322.2,885.0 324.2,884.9 326.2,884.7 328.1,884.5 330.1,884.3 332.1,884.1 334.1,884.0 336.1,883.8 338.1,883.6 340.1,883.4 342.1,883.2 344.1,883.0 346.1,882.8 348.1,882.6 350.1,882.5 352.0,882.3 354.0,882.1 356.0,881.9 358.0,881.8 360.0,881.6 362.0,881.4 364.0,881.3 366.0,881.1 368.0,881.0 370.0,880.8 372.0,880.7 374.0,880.6 376.0,880.4 378.0,880.3 380.0,880.1 382.0,880.0 384.0,879.9 385.9,879.7 387.9,879.6 389.9,879.4 391.9,879.3 393.9,879.2 395.9,879.0 397.9,878.9 399.9,878.7 401.9,878.6 403.9,878.4 405.9,878.2 407.9,878.1 409.9,877.9 411.9,877.8 413.9,877.6 415.9,877.4 417.9,877.3 419.8,877.1 421.8,876.9 423.8,876.8 425.8,876.6 427.8,876.4 429.8,876.3 431.8,876.1 433.8,875.9 435.8,875.8 437.8,875.6 439.8,875.4 441.8,875.3 443.8,875.1 445.8,874.9 447.7,874.8 449.7,874.6 451.7,874.4 453.7,874.2 455.7,874.1 457.7,873.9 459.7,873.7 461.7,873.6 463.7,873.4 465.7,873.2 467.7,873.1 469.7,872.9 471.7,872.7 473.7,872.6 475.6,872.4 477.6,872.2 479.6,872.0 481.6,871.9 483.6,871.7 485.6,871.5 487.6,871.3 489.6,871.1 491.6,871.0 493.6,870.8 495.6,870.6 497.6,870.4 499.5,870.2 501.5,870.1 503.5,869.9 505.5,869.7 507.5,869.5 509.5,869.3 511.5,869.2 513.5,869.0 515.5,868.8 517.5,868.6 519.5,868.4 521.5,868.3 523.5,868.1 525.4,867.9 527.4,867.8 529.4,867.6 531.4,867.4 533.4,867.2 535.4,867.1 537.4,866.9 539.4,866.7 541.4,866.6 543.4,866.4 545.4,866.2 547.4,866.1 549.4,865.9 551.4,865.7 553.3,865.6 555.3,865.4 557.3,865.2 559.3,865.1 561.3,864.9 563.3,864.7 565.3,864.5 567.3,864.4 569.3,864.2 571.3,864.0 573.3,863.8 575.3,863.6 577.3,863.5 579.2,863.3 581.2,863.1 583.2,862.9 585.2,862.8 587.2,862.6 589.2,862.4 591.2,862.2 593.2,862.1 595.2,861.9 597.2,861.7 599.2,861.6 601.2,861.4 603.2,861.2 605.2,861.1 607.1,860.9 609.1,860.8 611.1,860.6 613.1,860.5 615.1,860.3 617.1,860.2 619.1,860.0 621.1,859.9 623.1,859.7 625.1,859.6 627.1,859.5 629.1,859.3 631.1,859.2 633.1,859.0 635.1,858.9 637.1,858.7 639.1,858.6 641.1,858.4 643.0,858.3 645.0,858.1 647.0,858.0 649.0,857.8 651.0,857.7 653.0,857.5 655.0,857.4 657.0,857.2 659.0,857.0 661.0,856.9 663.0,856.7 665.0,856.6 667.0,856.4 669.0,856.3 671.0,856.1 673.0,856.0 674.9,855.8 676.8,855.7 678.2,855.6" fill="none" stroke="#000" stroke-width="8.0" stroke-linejoin="round" stroke-linecap="round" clip-path="url(#cb)"/>
<g fill="#fff" fill-opacity="0.95"><rect x="99.3" y="828.3" width="2.6" height="1.4"/><rect x="99.9" y="833.3" width="2.6" height="1.4"/><rect x="100.4" y="838.3" width="2.6" height="1.4"/><rect x="100.9" y="843.3" width="2.6" height="1.4"/><rect x="101.4" y="848.3" width="2.6" height="1.4"/><rect x="101.8" y="853.3" width="2.6" height="1.4"/><rect x="102.2" y="858.3" width="2.6" height="1.4"/><rect x="102.6" y="863.3" width="2.6" height="1.4"/><rect x="103.0" y="868.3" width="2.6" height="1.4"/><rect x="103.4" y="873.3" width="2.6" height="1.4"/></g>
<path d="M107.8,841.8 108.1,843.1 108.5,844.9 109.2,846.8 110.0,848.6 111.0,850.3 112.1,851.9 113.5,853.4 115.0,854.7 116.6,855.8 118.3,856.8 120.2,857.5 122.1,857.9 124.1,858.0 126.1,858.1 128.1,858.1 130.1,858.2 132.1,858.4 134.0,858.9 135.9,859.6 137.7,860.3 139.6,861.1 141.4,861.8 143.3,862.5 145.2,863.2 147.0,864.0 148.9,864.7 150.8,865.5 152.6,866.3 154.4,867.1 156.2,867.9 158.1,868.6 160.0,869.1 162.0,869.5 163.9,869.8 165.9,870.0 167.9,870.2 169.9,870.3 171.9,870.3 173.9,870.4 175.9,870.4 177.9,870.4 179.9,870.4 181.9,870.4 183.9,870.4 185.9,870.4 187.9,870.3 189.9,870.3 191.9,870.2 193.9,870.1 195.9,870.0 197.9,869.9 199.9,869.8 201.9,869.7 203.9,869.6 205.9,869.4 207.9,869.3 209.9,869.2 211.9,869.0 213.9,868.9 215.9,868.7 217.9,868.6 219.9,868.4 221.9,868.2 223.8,868.1 225.8,867.9 227.8,867.7 229.8,867.5 231.8,867.3 233.8,867.2 235.8,866.9 237.8,866.7 239.8,866.5 241.8,866.3 243.7,866.1 245.7,865.8 247.7,865.6 249.7,865.3 251.7,865.0 253.7,864.8 255.6,864.5 257.6,864.2 259.6,863.9 261.6,863.6 263.6,863.3 265.5,863.0 267.5,862.7 269.5,862.4 271.5,862.1 273.4,861.8 275.4,861.5 277.4,861.2 279.4,860.9 281.3,860.6 283.3,860.3 285.3,860.0 287.3,859.7 289.3,859.4 291.2,859.1 293.2,858.7 295.2,858.4 297.2,858.1 299.1,857.8 301.1,857.5 303.1,857.1 305.0,856.8 307.0,856.5 309.0,856.2 311.0,855.9 313.0,855.6 314.9,855.3 316.9,855.0 318.9,854.7 320.9,854.4 322.8,854.1 324.8,853.8 326.8,853.5 328.8,853.3 330.8,853.0 332.7,852.7 334.7,852.4 336.7,852.2 338.7,851.9 340.7,851.6 342.7,851.4 344.6,851.1 346.6,850.8 348.6,850.6 350.6,850.3 352.6,850.0 354.5,849.8 356.5,849.5 358.5,849.2 360.5,848.9 362.5,848.6 364.4,848.4 366.4,848.1 368.4,847.8 370.4,847.5 372.4,847.2 374.3,846.9 376.3,846.6 378.3,846.4 380.3,846.1 382.3,845.8 384.2,845.5 386.2,845.2 388.2,844.9 390.2,844.6 392.1,844.3 394.1,844.0 396.1,843.6 398.1,843.3 400.0,843.0 402.0,842.7 404.0,842.3 406.0,842.0 407.9,841.6 409.9,841.2 411.9,840.9 413.8,840.5 415.8,840.1 417.8,839.8 419.7,839.4 421.7,839.0 423.6,838.6 425.6,838.3 427.6,837.9 429.5,837.5 431.5,837.2 433.5,836.8 435.4,836.5 437.4,836.1 439.4,835.8 441.4,835.5 443.3,835.2 445.3,834.9 447.3,834.6 449.3,834.3 451.3,834.0 453.2,833.7 455.2,833.5 457.2,833.2 459.2,832.9 461.2,832.7 463.1,832.4 465.1,832.1 467.1,831.9 469.1,831.6 471.1,831.3 473.1,831.1 475.0,830.8 477.0,830.5 479.0,830.2 481.0,830.0 483.0,829.7 484.9,829.4 486.9,829.1 488.9,828.8 490.9,828.5 492.8,828.2 494.8,827.9 496.8,827.6 498.8,827.3 500.8,827.0 502.7,826.7 504.7,826.3 506.7,826.0 508.7,825.7 510.6,825.4 512.6,825.1 514.6,824.8 516.6,824.5 518.5,824.2 520.5,823.9 522.5,823.6 524.5,823.3 526.5,823.0 528.4,822.8 530.4,822.5 532.4,822.2 534.4,821.9 536.4,821.6 538.3,821.3 540.3,821.0 542.3,820.8 544.3,820.5 546.3,820.2 548.2,819.9 550.2,819.6 552.2,819.3 554.2,819.0 556.1,818.6 558.1,818.3 560.1,818.0 562.0,817.6 564.0,817.3 566.0,816.9 567.9,816.5 569.9,816.2 571.9,815.8 573.8,815.4 575.8,815.0 577.8,814.6 579.7,814.2 581.7,813.8 583.6,813.4 585.6,813.0 587.6,812.7 589.5,812.3 591.5,811.9 593.5,811.5 595.4,811.2 597.4,810.8 599.4,810.5 601.3,810.2 603.3,809.9 605.3,809.6 607.3,809.3 609.3,809.1 611.2,808.8 613.2,808.5 615.2,808.3 617.2,808.0 619.2,807.8 621.2,807.6 623.2,807.3 625.1,807.1 627.1,806.8 629.1,806.6 631.1,806.3 633.1,806.1 635.1,805.8 637.0,805.5 639.0,805.2 641.0,804.9 643.0,804.6 645.0,804.3 646.9,804.0 648.9,803.7 650.9,803.4 652.8,803.0 654.8,802.7 656.8,802.4 658.8,802.0 660.7,801.7 662.7,801.3 664.7,801.0 666.6,800.7 668.6,800.3 670.6,800.0 672.6,799.6 674.5,799.3 676.3,799.0 677.7,798.7" fill="none" stroke="#0000f8" stroke-width="8.3" stroke-linejoin="round" stroke-linecap="round" clip-path="url(#cb)"/>
<g clip-path="url(#cb)"><circle cx="89.6" cy="546.2" r="3.3" fill="#fff" stroke="#0000f8" stroke-width="2.0"/><circle cx="89.8" cy="550.0" r="3.3" fill="#fff" stroke="#0000f8" stroke-width="2.0"/><circle cx="90.0" cy="554.0" r="3.3" fill="#fff" stroke="#0000f8" stroke-width="2.0"/><circle cx="89.7" cy="686.7" r="3.3" fill="#fff" stroke="#0000f8" stroke-width="2.0"/><circle cx="89.9" cy="700.0" r="3.3" fill="#fff" stroke="#0000f8" stroke-width="2.0"/><circle cx="90.3" cy="708.0" r="3.3" fill="#fff" stroke="#0000f8" stroke-width="2.0"/><circle cx="91.2" cy="712.0" r="3.3" fill="#fff" stroke="#0000f8" stroke-width="2.0"/><circle cx="92.3" cy="715.5" r="3.3" fill="#fff" stroke="#0000f8" stroke-width="2.0"/><circle cx="93.5" cy="718.5" r="3.3" fill="#fff" stroke="#0000f8" stroke-width="2.0"/><circle cx="94.7" cy="721.5" r="3.3" fill="#fff" stroke="#0000f8" stroke-width="2.0"/><circle cx="96.0" cy="725.0" r="3.3" fill="#fff" stroke="#0000f8" stroke-width="2.0"/><circle cx="97.3" cy="728.5" r="3.3" fill="#fff" stroke="#0000f8" stroke-width="2.0"/><circle cx="98.4" cy="732.5" r="3.3" fill="#fff" stroke="#0000f8" stroke-width="2.0"/><circle cx="99.4" cy="740.0" r="3.3" fill="#fff" stroke="#0000f8" stroke-width="2.0"/><circle cx="100.2" cy="747.0" r="3.3" fill="#fff" stroke="#0000f8" stroke-width="2.0"/><circle cx="101.0" cy="753.5" r="3.3" fill="#fff" stroke="#0000f8" stroke-width="2.0"/><circle cx="101.7" cy="760.0" r="3.3" fill="#fff" stroke="#0000f8" stroke-width="2.0"/><circle cx="102.3" cy="767.0" r="3.3" fill="#fff" stroke="#0000f8" stroke-width="2.0"/><circle cx="102.9" cy="774.0" r="3.3" fill="#fff" stroke="#0000f8" stroke-width="2.0"/><circle cx="103.4" cy="781.0" r="3.3" fill="#fff" stroke="#0000f8" stroke-width="2.0"/><circle cx="103.9" cy="788.0" r="3.3" fill="#fff" stroke="#0000f8" stroke-width="2.0"/><circle cx="104.4" cy="795.0" r="3.3" fill="#fff" stroke="#0000f8" stroke-width="2.0"/><circle cx="104.9" cy="802.0" r="3.3" fill="#fff" stroke="#0000f8" stroke-width="2.0"/><circle cx="105.4" cy="809.0" r="3.3" fill="#fff" stroke="#0000f8" stroke-width="2.0"/><circle cx="105.9" cy="816.0" r="3.3" fill="#fff" stroke="#0000f8" stroke-width="2.0"/><circle cx="106.4" cy="823.0" r="3.3" fill="#fff" stroke="#0000f8" stroke-width="2.0"/><circle cx="106.9" cy="830.0" r="3.3" fill="#fff" stroke="#0000f8" stroke-width="2.0"/><circle cx="107.4" cy="837.0" r="3.3" fill="#fff" stroke="#0000f8" stroke-width="2.0"/><circle cx="107.9" cy="843.0" r="3.3" fill="#fff" stroke="#0000f8" stroke-width="2.0"/></g>
<g clip-path="url(#cb)"><path d="M91.2,518.0L95.9,524.7L86.5,524.7Z" fill="#fff" stroke="#ff8205" stroke-width="1.9" stroke-linejoin="round"/><path d="M92.0,548.9L96.7,555.6L87.3,555.6Z" fill="#fff" stroke="#ff8205" stroke-width="1.9" stroke-linejoin="round"/><path d="M93.0,561.7L97.7,568.4L88.3,568.4Z" fill="#fff" stroke="#ff8205" stroke-width="1.9" stroke-linejoin="round"/><path d="M93.6,573.2L98.3,579.9L88.9,579.9Z" fill="#fff" stroke="#ff8205" stroke-width="1.9" stroke-linejoin="round"/><path d="M94.2,582.9L98.9,589.6L89.5,589.6Z" fill="#fff" stroke="#ff8205" stroke-width="1.9" stroke-linejoin="round"/><path d="M94.7,590.2L99.4,596.9L90.0,596.9Z" fill="#fff" stroke="#ff8205" stroke-width="1.9" stroke-linejoin="round"/><path d="M95.2,597.2L99.9,603.9L90.5,603.9Z" fill="#fff" stroke="#ff8205" stroke-width="1.9" stroke-linejoin="round"/><path d="M95.8,604.2L100.5,610.9L91.1,610.9Z" fill="#fff" stroke="#ff8205" stroke-width="1.9" stroke-linejoin="round"/><path d="M96.4,613.8L101.1,620.5L91.7,620.5Z" fill="#fff" stroke="#ff8205" stroke-width="1.9" stroke-linejoin="round"/><path d="M97.0,628.9L101.7,635.6L92.3,635.6Z" fill="#fff" stroke="#ff8205" stroke-width="1.9" stroke-linejoin="round"/><path d="M97.5,642.2L102.2,648.9L92.8,648.9Z" fill="#fff" stroke="#ff8205" stroke-width="1.9" stroke-linejoin="round"/><path d="M98.0,655.6L102.7,662.3L93.3,662.3Z" fill="#fff" stroke="#ff8205" stroke-width="1.9" stroke-linejoin="round"/><path d="M98.6,668.9L103.3,675.6L93.9,675.6Z" fill="#fff" stroke="#ff8205" stroke-width="1.9" stroke-linejoin="round"/><path d="M99.5,682.2L104.2,688.9L94.8,688.9Z" fill="#fff" stroke="#ff8205" stroke-width="1.9" stroke-linejoin="round"/><path d="M100.2,695.6L104.9,702.3L95.5,702.3Z" fill="#fff" stroke="#ff8205" stroke-width="1.9" stroke-linejoin="round"/><path d="M101.2,706.5L105.9,713.2L96.5,713.2Z" fill="#fff" stroke="#ff8205" stroke-width="1.9" stroke-linejoin="round"/><path d="M103.3,718.2L108.0,724.9L98.6,724.9Z" fill="#fff" stroke="#ff8205" stroke-width="1.9" stroke-linejoin="round"/><path d="M104.3,729.2L109.0,735.9L99.6,735.9Z" fill="#fff" stroke="#ff8205" stroke-width="1.9" stroke-linejoin="round"/><path d="M105.0,740.2L109.7,746.9L100.3,746.9Z" fill="#fff" stroke="#ff8205" stroke-width="1.9" stroke-linejoin="round"/><path d="M105.6,750.2L110.3,756.9L100.9,756.9Z" fill="#fff" stroke="#ff8205" stroke-width="1.9" stroke-linejoin="round"/><path d="M106.3,759.2L111.0,765.9L101.6,765.9Z" fill="#fff" stroke="#ff8205" stroke-width="1.9" stroke-linejoin="round"/><path d="M107.0,767.2L111.7,773.9L102.3,773.9Z" fill="#fff" stroke="#ff8205" stroke-width="1.9" stroke-linejoin="round"/><path d="M107.8,774.2L112.5,780.9L103.1,780.9Z" fill="#fff" stroke="#ff8205" stroke-width="1.9" stroke-linejoin="round"/></g>
<path d="M108.8,782.7 109.2,784.1 109.6,785.9 110.0,787.8 110.2,789.8 110.5,791.8 110.7,793.8 111.0,795.8 111.4,797.7 112.0,799.6 112.7,801.5 113.5,803.3 114.6,805.0 115.8,806.6 117.1,808.0 118.6,809.3 120.3,810.3 122.2,811.0 124.1,811.5 126.1,811.9 128.0,812.3 130.0,812.7 131.9,813.3 133.8,813.9 135.7,814.5 137.6,815.1 139.5,815.7 141.4,816.4 143.3,817.0 145.2,817.6 147.1,818.3 149.0,819.0 150.8,819.8 152.6,820.7 154.3,821.7 156.0,822.7 157.8,823.6 159.6,824.5 161.5,825.2 163.4,825.8 165.3,826.3 167.3,826.7 169.2,827.1 171.2,827.5 173.2,827.9 175.1,828.2 177.1,828.5 179.1,828.7 181.1,828.9 183.1,829.1 185.1,829.2 187.1,829.4 189.1,829.5 191.1,829.5 193.1,829.6 195.1,829.6 197.1,829.6 199.1,829.5 201.1,829.4 203.1,829.4 205.1,829.2 207.1,829.1 209.0,829.0 211.0,828.9 213.0,828.7 215.0,828.6 217.0,828.4 219.0,828.3 221.0,828.1 223.0,827.9 225.0,827.7 227.0,827.5 229.0,827.3 231.0,827.1 232.9,826.8 234.9,826.6 236.9,826.4 238.9,826.1 240.9,825.8 242.9,825.6 244.8,825.3 246.8,825.0 248.8,824.6 250.8,824.3 252.7,823.9 254.7,823.5 256.6,823.1 258.6,822.7 260.5,822.3 262.5,821.8 264.4,821.3 266.4,820.8 268.3,820.3 270.2,819.8 272.2,819.3 274.1,818.9 276.1,818.4 278.0,818.0 280.0,817.5 281.9,817.1 283.9,816.7 285.8,816.2 287.8,815.8 289.8,815.4 291.7,815.0 293.7,814.6 295.6,814.2 297.6,813.8 299.5,813.4 301.5,813.0 303.5,812.6 305.4,812.2 307.4,811.8 309.3,811.4 311.3,810.9 313.2,810.5 315.2,810.1 317.2,809.6 319.1,809.2 321.1,808.8 323.0,808.3 324.9,807.8 326.9,807.4 328.8,806.9 330.8,806.4 332.7,805.9 334.7,805.4 336.6,804.9 338.5,804.5 340.5,804.0 342.4,803.5 344.3,803.0 346.3,802.5 348.2,802.0 350.2,801.5 352.1,801.0 354.0,800.5 356.0,800.0 357.9,799.5 359.9,799.0 361.8,798.6 363.7,798.1 365.7,797.6 367.6,797.1 369.6,796.7 371.5,796.2 373.5,795.7 375.4,795.3 377.3,794.8 379.3,794.3 381.2,793.9 383.2,793.4 385.1,792.9 387.1,792.5 389.0,792.0 391.0,791.5 392.9,791.0 394.8,790.5 396.8,790.0 398.7,789.5 400.6,789.0 402.6,788.5 404.5,788.0 406.4,787.5 408.4,786.9 410.3,786.4 412.2,785.9 414.1,785.3 416.1,784.8 418.0,784.3 419.9,783.7 421.8,783.2 423.8,782.6 425.7,782.1 427.6,781.5 429.5,781.0 431.5,780.4 433.4,779.9 435.3,779.3 437.2,778.8 439.2,778.2 441.1,777.7 443.0,777.2 444.9,776.6 446.9,776.1 448.8,775.5 450.7,775.0 452.6,774.4 454.6,773.9 456.5,773.3 458.4,772.8 460.3,772.2 462.2,771.7 464.2,771.2 466.1,770.6 468.0,770.1 470.0,769.5 471.9,769.0 473.8,768.5 475.7,767.9 477.7,767.4 479.6,766.9 481.5,766.4 483.5,765.9 485.4,765.4 487.3,764.9 489.3,764.4 491.2,763.9 493.2,763.4 495.1,762.9 497.0,762.5 499.0,762.0 500.9,761.5 502.9,761.0 504.8,760.5 506.7,760.0 508.7,759.6 510.6,759.1 512.6,758.6 514.5,758.1 516.4,757.6 518.4,757.1 520.3,756.6 522.3,756.1 524.2,755.6 526.1,755.1 528.1,754.6 530.0,754.1 531.9,753.6 533.9,753.1 535.8,752.6 537.7,752.1 539.7,751.6 541.6,751.0 543.5,750.5 545.5,750.0 547.4,749.5 549.3,749.0 551.3,748.4 553.2,747.9 555.1,747.4 557.0,746.8 559.0,746.3 560.9,745.7 562.8,745.2 564.7,744.6 566.6,744.0 568.6,743.4 570.5,742.9 572.4,742.3 574.3,741.7 576.2,741.1 578.1,740.5 580.0,739.9 581.9,739.3 583.8,738.7 585.7,738.1 587.6,737.5 589.6,736.9 591.5,736.3 593.4,735.8 595.3,735.2 597.2,734.7 599.2,734.1 601.1,733.6 603.0,733.1 605.0,732.6 606.9,732.2 608.9,731.7 610.8,731.3 612.8,730.8 614.7,730.4 616.7,730.0 618.6,729.6 620.6,729.1 622.5,728.7 624.5,728.3 626.4,727.9 628.4,727.4 630.4,727.0 632.3,726.6 634.3,726.1 636.2,725.6 638.1,725.2 640.1,724.7 642.0,724.2 643.9,723.6 645.9,723.1 647.8,722.6 649.7,722.1 651.7,721.5 653.6,721.0 655.5,720.4 657.4,719.9 659.3,719.3 661.3,718.7 663.2,718.2 665.1,717.6 667.0,717.0 668.9,716.5 670.9,715.9 672.8,715.3 674.7,714.8 676.5,714.2 677.8,713.9" fill="none" stroke="#ff8205" stroke-width="9.0" stroke-linejoin="round" stroke-linecap="round" clip-path="url(#cb)"/>
<g clip-path="url(#cb)"><path d="M98.9,507.4L103.6,500.7L94.2,500.7Z" fill="#fff" stroke="#08f208" stroke-width="2.0" stroke-linejoin="round"/><path d="M99.5,535.3L104.2,528.6L94.8,528.6Z" fill="#fff" stroke="#08f208" stroke-width="2.0" stroke-linejoin="round"/><path d="M100.0,554.7L104.7,548.0L95.3,548.0Z" fill="#fff" stroke="#08f208" stroke-width="2.0" stroke-linejoin="round"/><path d="M100.3,572.9L105.0,566.2L95.6,566.2Z" fill="#fff" stroke="#08f208" stroke-width="2.0" stroke-linejoin="round"/><path d="M100.8,589.3L105.5,582.6L96.1,582.6Z" fill="#fff" stroke="#08f208" stroke-width="2.0" stroke-linejoin="round"/><path d="M101.3,603.2L106.0,596.5L96.6,596.5Z" fill="#fff" stroke="#08f208" stroke-width="2.0" stroke-linejoin="round"/><path d="M102.2,617.8L106.9,611.1L97.5,611.1Z" fill="#fff" stroke="#08f208" stroke-width="2.0" stroke-linejoin="round"/><path d="M102.8,629.8L107.5,623.1L98.1,623.1Z" fill="#fff" stroke="#08f208" stroke-width="2.0" stroke-linejoin="round"/><path d="M103.4,641.3L108.1,634.6L98.7,634.6Z" fill="#fff" stroke="#08f208" stroke-width="2.0" stroke-linejoin="round"/><path d="M104.0,651.8L108.7,645.1L99.3,645.1Z" fill="#fff" stroke="#08f208" stroke-width="2.0" stroke-linejoin="round"/><path d="M104.5,662.3L109.2,655.6L99.8,655.6Z" fill="#fff" stroke="#08f208" stroke-width="2.0" stroke-linejoin="round"/><path d="M105.0,671.1L109.7,664.4L100.3,664.4Z" fill="#fff" stroke="#08f208" stroke-width="2.0" stroke-linejoin="round"/><path d="M105.5,679.0L110.2,672.3L100.8,672.3Z" fill="#fff" stroke="#08f208" stroke-width="2.0" stroke-linejoin="round"/><path d="M106.0,686.2L110.7,679.5L101.3,679.5Z" fill="#fff" stroke="#08f208" stroke-width="2.0" stroke-linejoin="round"/><path d="M106.3,692.3L111.0,685.6L101.6,685.6Z" fill="#fff" stroke="#08f208" stroke-width="2.0" stroke-linejoin="round"/><path d="M106.6,697.3L111.3,690.6L101.9,690.6Z" fill="#fff" stroke="#08f208" stroke-width="2.0" stroke-linejoin="round"/><path d="M106.9,701.8L111.6,695.1L102.2,695.1Z" fill="#fff" stroke="#08f208" stroke-width="2.0" stroke-linejoin="round"/><path d="M107.2,705.8L111.9,699.1L102.5,699.1Z" fill="#fff" stroke="#08f208" stroke-width="2.0" stroke-linejoin="round"/><path d="M107.6,709.3L112.3,702.6L102.9,702.6Z" fill="#fff" stroke="#08f208" stroke-width="2.0" stroke-linejoin="round"/></g>
<path d="M108.5,706.8 108.8,708.1 109.3,709.9 110.0,711.7 110.6,713.6 111.3,715.5 111.9,717.4 112.5,719.3 113.2,721.2 114.0,723.0 114.8,724.9 115.6,726.7 116.4,728.5 117.4,730.3 118.4,732.0 119.6,733.5 121.0,734.9 122.6,736.0 124.4,736.9 126.3,737.5 128.2,737.8 130.2,737.8 132.2,737.4 134.1,736.9 136.0,736.3 137.9,735.7 139.8,735.2 141.8,734.9 143.7,735.0 145.5,735.7 147.1,736.8 148.5,738.2 149.8,739.7 151.0,741.3 152.1,743.0 153.3,744.6 154.4,746.2 155.6,747.8 156.8,749.4 158.0,751.0 159.3,752.6 160.6,754.1 162.0,755.5 163.4,756.9 164.9,758.2 166.4,759.5 168.0,760.8 169.5,762.1 171.0,763.4 172.5,764.8 173.9,766.2 175.3,767.6 176.7,769.0 178.0,770.5 179.4,772.0 180.7,773.5 182.1,775.0 183.4,776.4 184.7,777.9 186.1,779.4 187.4,781.0 188.7,782.5 190.0,784.0 191.4,785.4 192.8,786.9 194.2,788.3 195.6,789.6 197.1,791.0 198.6,792.3 200.1,793.6 201.6,794.9 203.2,796.2 204.7,797.5 206.3,798.7 207.8,800.0 209.4,801.2 211.0,802.4 212.6,803.6 214.2,804.8 215.9,805.8 217.7,806.8 219.5,807.7 221.3,808.5 223.1,809.3 225.0,810.0 226.9,810.6 228.8,811.2 230.7,811.7 232.7,812.2 234.6,812.7 236.6,813.2 238.5,813.7 240.5,814.1 242.4,814.6 244.3,815.1 246.3,815.5 248.2,816.0 250.2,816.5 252.1,817.0 254.1,817.4 256.0,817.8 258.0,818.1 260.0,818.4 262.0,818.6 263.9,818.9 265.9,819.1 267.9,819.3 269.9,819.5 271.9,819.7 273.9,819.9 275.9,820.1 277.9,820.2 279.9,820.4 281.9,820.5 283.9,820.6 285.9,820.6 287.9,820.6 289.9,820.5 291.9,820.4 293.9,820.2 295.9,820.1 297.8,819.9 299.8,819.7 301.8,819.4 303.8,819.2 305.8,819.0 307.8,818.7 309.8,818.4 311.7,818.2 313.7,817.9 315.7,817.6 317.7,817.3 319.7,817.0 321.6,816.8 323.6,816.5 325.6,816.2 327.6,815.9 329.5,815.6 331.5,815.2 333.5,814.9 335.5,814.6 337.4,814.3 339.4,813.9 341.4,813.6 343.4,813.3 345.3,813.0 347.3,812.6 349.3,812.3 351.3,812.0 353.2,811.6 355.2,811.3 357.2,811.0 359.1,810.6 361.1,810.3 363.1,810.0 365.1,809.7 367.0,809.4 369.0,809.0 371.0,808.7 373.0,808.4 374.9,808.1 376.9,807.8 378.9,807.4 380.9,807.1 382.8,806.8 384.8,806.5 386.8,806.1 388.7,805.8 390.7,805.4 392.7,805.1 394.6,804.7 396.6,804.3 398.6,804.0 400.5,803.6 402.5,803.2 404.5,802.8 406.4,802.4 408.4,801.9 410.3,801.5 412.3,801.1 414.2,800.6 416.2,800.2 418.1,799.7 420.1,799.3 422.0,798.8 424.0,798.3 425.9,797.9 427.9,797.4 429.8,797.0 431.8,796.5 433.7,796.1 435.7,795.7 437.6,795.2 439.6,794.8 441.5,794.4 443.5,794.0 445.4,793.6 447.4,793.2 449.4,792.8 451.3,792.4 453.3,792.0 455.2,791.6 457.2,791.2 459.2,790.8 461.1,790.5 463.1,790.1 465.1,789.7 467.0,789.3 469.0,788.9 470.9,788.5 472.9,788.1 474.9,787.7 476.8,787.3 478.8,786.9 480.7,786.5 482.7,786.1 484.7,785.7 486.6,785.3 488.6,784.9 490.5,784.5 492.5,784.0 494.4,783.6 496.4,783.2 498.3,782.8 500.3,782.3 502.3,781.9 504.2,781.5 506.2,781.1 508.1,780.6 510.1,780.2 512.0,779.8 514.0,779.4 515.9,779.0 517.9,778.5 519.8,778.1 521.8,777.7 523.8,777.3 525.7,776.9 527.7,776.5 529.6,776.1 531.6,775.8 533.6,775.4 535.5,775.0 537.5,774.6 539.5,774.2 541.4,773.8 543.4,773.4 545.3,773.0 547.3,772.6 549.3,772.2 551.2,771.8 553.2,771.4 555.1,771.0 557.1,770.6 559.0,770.1 561.0,769.7 562.9,769.2 564.9,768.7 566.8,768.2 568.8,767.7 570.7,767.2 572.6,766.7 574.6,766.2 576.5,765.7 578.4,765.2 580.3,764.7 582.3,764.1 584.2,763.6 586.1,763.1 588.1,762.6 590.0,762.1 592.0,761.6 593.9,761.1 595.8,760.7 597.8,760.2 599.7,759.8 601.7,759.3 603.6,758.9 605.6,758.5 607.6,758.1 609.5,757.8 611.5,757.4 613.5,757.0 615.4,756.7 617.4,756.3 619.4,755.9 621.3,755.6 623.3,755.3 625.3,754.9 627.2,754.6 629.2,754.2 631.2,753.9 633.2,753.5 635.1,753.1 637.1,752.8 639.0,752.4 641.0,752.0 643.0,751.6 644.9,751.2 646.9,750.8 648.8,750.4 650.8,750.0 652.8,749.6 654.7,749.2 656.7,748.8 658.6,748.3 660.6,747.9 662.5,747.5 664.5,747.1 666.5,746.7 668.4,746.3 670.4,745.8 672.3,745.4 674.3,745.0 676.1,744.6 677.4,744.3" fill="none" stroke="#08f208" stroke-width="10.5" stroke-linejoin="round" stroke-linecap="round" clip-path="url(#cb)"/>
<path d="M148.9,697L126.9,918" stroke="#333" stroke-width="0.9" stroke-dasharray="7,2.5,1.2,2.5" fill="none"/>
<path d="M405.3,241.1H459.6" stroke="#444" stroke-width="1.1"/>
<rect x="429.7" y="238.4" width="5.4" height="5.4" fill="#fff" stroke="#000" stroke-width="1.9"/>
<text x="467.4" y="248.1" class="lga" textLength="165.0" lengthAdjust="spacingAndGlyphs">PACMC (blend)</text>
<path d="M405.3,270.2H459.6" stroke="#3030b0" stroke-width="1.1"/>
<circle cx="432.4" cy="270.2" r="2.7" fill="#fff" stroke="#0000f8" stroke-width="1.9"/>
<text x="467.4" y="277.2" class="lga" textLength="144.0" lengthAdjust="spacingAndGlyphs">1.0 wt% CoFe</text>
<path d="M405.3,298.4H459.6" stroke="#e8a060" stroke-width="1.1"/>
<path d="M432.4,295.2L436.4,300.9L428.4,300.9Z" fill="#fff" stroke="#ff8205" stroke-width="1.9" stroke-linejoin="round"/>
<text x="467.4" y="305.4" class="lga" textLength="144.0" lengthAdjust="spacingAndGlyphs">3.0 wt% CoFe</text>
<path d="M405.3,326.5H459.6" stroke="#70e070" stroke-width="1.1"/>
<path d="M432.4,329.7L436.4,324.0L428.4,324.0Z" fill="#fff" stroke="#08f208" stroke-width="1.9" stroke-linejoin="round"/>
<text x="467.4" y="333.5" class="lga" textLength="144.0" lengthAdjust="spacingAndGlyphs">6.0 wt% CoFe</text>
<path d="M441.4,585.8H497.4" stroke="#444" stroke-width="1.1"/>
<rect x="466.8" y="583.1" width="5.4" height="5.4" fill="#fff" stroke="#000" stroke-width="1.9"/>
<text x="505.9" y="592.7" class="lgb" textLength="164.5" lengthAdjust="spacingAndGlyphs">PACMC(blend)</text>
<path d="M441.4,615.1H497.4" stroke="#3030b0" stroke-width="1.1"/>
<circle cx="469.5" cy="615.1" r="2.7" fill="#fff" stroke="#0000f8" stroke-width="1.9"/>
<text x="505.9" y="622.1" class="lgb" textLength="149.2" lengthAdjust="spacingAndGlyphs">1.0 wt% CoFe</text>
<path d="M441.4,644.2H497.4" stroke="#e8a060" stroke-width="1.1"/>
<path d="M469.5,641.0L473.5,646.7L465.5,646.7Z" fill="#fff" stroke="#ff8205" stroke-width="1.9" stroke-linejoin="round"/>
<text x="505.9" y="651.2" class="lgb" textLength="149.2" lengthAdjust="spacingAndGlyphs">3.0 wt% CoFe</text>
<path d="M441.4,673.4H497.4" stroke="#70e070" stroke-width="1.1"/>
<path d="M469.5,676.6L473.5,670.9L465.5,670.9Z" fill="#fff" stroke="#08f208" stroke-width="1.9" stroke-linejoin="round"/>
<text x="505.9" y="680.4" class="lgb" textLength="149.2" lengthAdjust="spacingAndGlyphs">6.0 wt% CoFe</text>
<text x="120.8" y="39.5" class="pl" textLength="55" lengthAdjust="spacingAndGlyphs">(a)</text>
<text x="121" y="514.6" class="pl" textLength="58.5" lengthAdjust="spacingAndGlyphs">(b)</text>
<text x="140.6" y="680.6" class="ann" textLength="87" lengthAdjust="spacingAndGlyphs">308 nm</text>
<text transform="translate(34.8,363.6) rotate(-90)" class="at" textLength="291.5" lengthAdjust="spacingAndGlyphs">Transmittance, T(%)</text>
<g transform="translate(46.8,923.6) rotate(-90)"><text x="0" y="0" class="at2" textLength="372.5" lengthAdjust="spacingAndGlyphs">Extinction coefficient, k</text><text x="379.3" y="0" class="sx" textLength="19" lengthAdjust="spacingAndGlyphs">x</text><text x="407.8" y="0" class="at2" textLength="32.5" lengthAdjust="spacingAndGlyphs">10</text><text x="443" y="-15.7" class="sup" textLength="19" lengthAdjust="spacingAndGlyphs">-2</text></g>
<text x="236.1" y="979" class="xl" textLength="292.2" lengthAdjust="spacingAndGlyphs">Wavelength, &#955; (nm)</text></svg></body></html>
